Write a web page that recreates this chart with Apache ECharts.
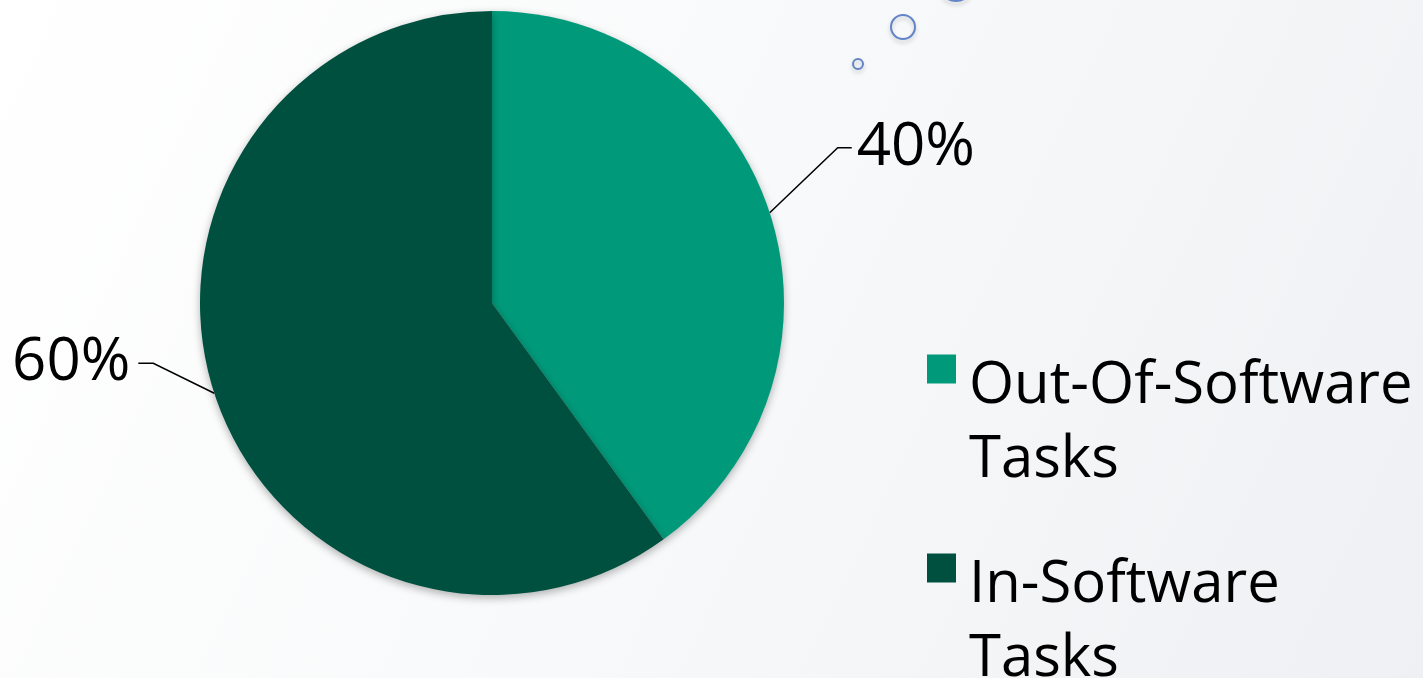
<!DOCTYPE html>
<html>
<head>
<meta charset="utf-8">
<script src="https://cdn.jsdelivr.net/npm/echarts@6/dist/echarts.min.js"></script>
<style>
  html, body { margin: 0; padding: 0; }
  #main { width: 1423px; height: 678px; }
</style>
</head>
<body>
<div id="main"></div>
<script>
const categories = ['Out-Of-Software Tasks', 'In-Software Tasks'];
const legendLines = [['Out-Of-Software', 'Tasks'], ['In-Software', 'Tasks']];
const values = [40, 60];
const colors = ['#009a7a', '#00503f'];

var chart = echarts.init(document.getElementById('main'));

const fontFamily = '"Open Sans", "Noto Sans", sans-serif';

// one legend per entry so the two-line text never wraps into columns
const makeLegend = (i, top) => ({
  orient: 'vertical',
  left: 922,
  top: top,
  itemWidth: 29,
  itemHeight: 29,
  icon: 'rect',
  selectedMode: false,
  data: [categories[i]],
  formatter: () => '{s| }\n{a|' + legendLines[i][0] + '}\n{a|' + legendLines[i][1] + '}',
  textStyle: {
    fontFamily: fontFamily,
    color: '#000',
    rich: {
      s: { fontSize: 10, lineHeight: 108 },
      a: { fontFamily: fontFamily, fontSize: 58, lineHeight: 74, color: '#000', padding: [0, 0, 0, 8] }
    }
  }
});

const bubble = (cx, cy, r) => ({
  type: 'circle', shape: { cx: cx, cy: cy, r: r },
  style: { fill: 'none', stroke: '#6384c8', lineWidth: 2, shadowBlur: 4, shadowColor: 'rgba(0,0,0,0.2)', shadowOffsetY: 3 }
});

var option = {
  backgroundColor: {
    type: 'linear', x: 0, y: 0, x2: 1, y2: 1,
    colorStops: [
      { offset: 0, color: '#ffffff' },
      { offset: 0.5, color: '#f8f9fa' },
      { offset: 1, color: '#eef0f3' }
    ]
  },
  color: colors,
  legend: [makeLegend(0, 285), makeLegend(1, 484)],
  graphic: [bubble(858, 64, 5), bubble(903, 27, 12), bubble(956, -16, 17)],
  series: [
    {
      type: 'pie',
      center: [492, 303],
      radius: 292,
      startAngle: 90,
      clockwise: true,
      silent: true,
      itemStyle: {
        shadowBlur: 8,
        shadowColor: 'rgba(0,0,0,0.3)',
        shadowOffsetY: 3
      },
      label: {
        show: true,
        formatter: '{d}%',
        fontFamily: fontFamily,
        fontSize: 60,
        color: '#000'
      },
      labelLine: {
        show: true,
        lineStyle: { color: '#000', width: 1.5 }
      },
      labelLayout: (params) => {
        const start = params.labelLinePoints[0];
        let mid, end;
        if (start[0] > 492) {
          mid = [start[0] + 68, start[1] - 65];
          end = [mid[0] + 14, mid[1]];
          return { x: end[0] + 5, y: end[1], align: 'left', verticalAlign: 'middle', labelLinePoints: [start, mid, end] };
        }
        mid = [start[0] - 61, start[1] - 30];
        end = [mid[0] - 15, mid[1]];
        return { x: end[0] - 8, y: end[1], align: 'right', verticalAlign: 'middle', labelLinePoints: [start, mid, end] };
      },
      data: categories.map((c, i) => ({ name: c, value: values[i] }))
    }
  ]
};

chart.setOption(option);
</script>
</body>
</html>
